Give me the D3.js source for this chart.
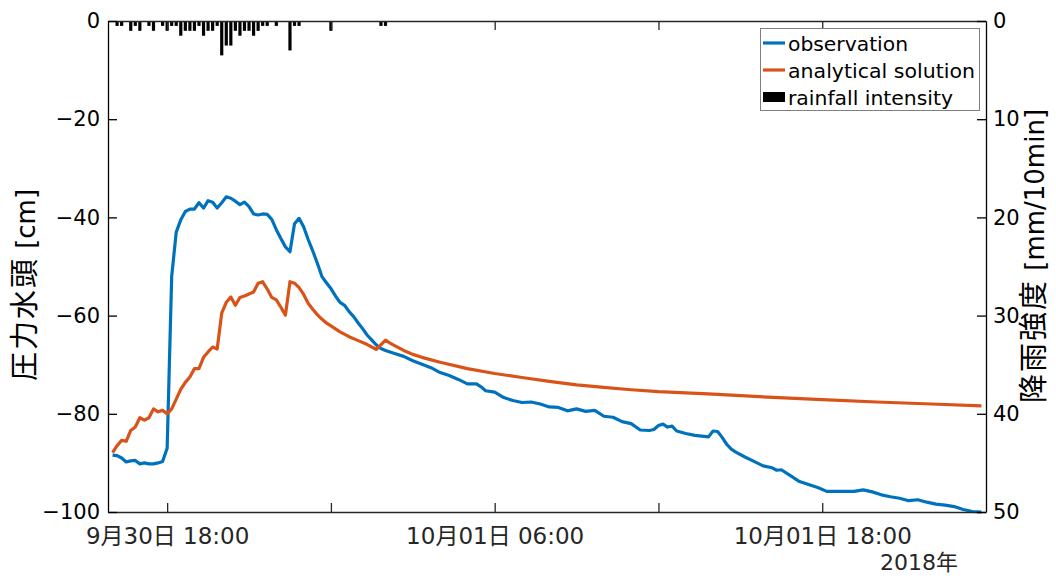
<!DOCTYPE html>
<html><head><meta charset="utf-8">
<script src="https://cdn.jsdelivr.net/npm/d3@7"></script>
<style>body{margin:0;background:#fff} svg{display:block}</style>
</head><body><svg id="c" width="1056" height="576"></svg>
<script>
// ---- data ----
const startTime = new Date(2018, 8, 30, 16, 0); // step 0 = 2018-09-30 16:00, 10-min steps
const obsStep = [0,1,2,3,4,5,6,7,8,9,10,11,12,13,14,15,16,17,18,19,20,21,22,23,24,25,26,27,28,29,30,31,32,33,34,35,36,37,38,39,40,41,42,43,44,45,46,47,48,49,50,51,52,53,54,55,56,57,58,59,60,62,64,66,68,70,72,74,76,78,80,81,82,84,86,88,90,92,94,96,98,100,102,104,106,108,110,112,114,116,118,119,120,121,122,123,124,126,128,130,131,132,133,134,135,136,137,139,141,143,145,146,147,149,151,153,155,157,159,161,163,165,167,169,171,173,175,177,179,181,183,185,187,189,191];
const obsHead = [-88.4,-88.5,-89.0,-89.8,-89.6,-89.5,-90.2,-90.0,-90.2,-90.2,-90.0,-89.7,-87.0,-52.0,-43.0,-40.5,-38.8,-38.3,-38.3,-37.0,-38.1,-36.6,-36.9,-38.1,-37.0,-35.8,-36.1,-36.7,-37.4,-36.9,-37.8,-39.3,-39.5,-39.3,-39.4,-40.4,-42.5,-44.3,-46.0,-47.0,-41.3,-40.2,-41.9,-44.5,-46.8,-49.3,-52.0,-53.3,-54.5,-56.0,-57.3,-57.9,-59.2,-60.2,-61.5,-62.7,-64.0,-65.0,-66.0,-66.7,-67.1,-67.7,-68.3,-69.2,-69.9,-70.6,-71.6,-72.2,-73.0,-73.9,-73.9,-74.5,-75.3,-75.6,-76.7,-77.3,-77.7,-77.6,-78.0,-78.6,-78.7,-79.4,-79.0,-79.5,-79.3,-80.5,-80.7,-81.6,-82.0,-83.3,-83.4,-83.2,-82.4,-82.1,-82.7,-82.5,-83.5,-84.0,-84.4,-84.6,-84.7,-83.5,-83.6,-84.8,-86.2,-87.2,-87.8,-88.8,-89.7,-90.6,-91.0,-91.5,-91.4,-92.6,-93.8,-94.4,-95.0,-95.8,-95.8,-95.8,-95.8,-95.5,-95.9,-96.5,-96.9,-97.2,-97.7,-97.5,-98.0,-98.4,-98.6,-98.9,-99.5,-99.9,-100.0];
const anaStep = [0,1,2,3,4,5,6,7,8,9,10,11,12,13,14,15,16,17,18,19,20,21,22,23,24,25,26,27,28,29,30,31,32,33,34,35,36,37,38,39,40,41,42,43,44,45,46,47,48,50,52,54,56,58,60,61,62,64,66,68,72,78,84,90,96,102,108,114,120,132,144,156,168,180,191];
const anaHead = [-87.9,-86.5,-85.4,-85.6,-83.4,-82.7,-80.8,-81.3,-80.8,-79.0,-79.6,-79.3,-80.0,-79.0,-77.0,-75.0,-73.6,-72.5,-70.8,-70.8,-68.5,-67.4,-66.4,-66.8,-59.5,-57.3,-56.2,-57.9,-56.3,-56.0,-55.6,-55.2,-53.4,-53.1,-54.6,-56.3,-56.8,-58.3,-59.9,-53.1,-53.4,-54.3,-55.7,-57.5,-58.7,-59.8,-60.7,-61.5,-62.1,-63.3,-64.3,-65.1,-65.9,-66.9,-65.0,-65.6,-66.1,-67.1,-67.9,-68.5,-69.5,-70.8,-71.8,-72.6,-73.4,-74.1,-74.6,-75.1,-75.5,-76.0,-76.6,-77.1,-77.6,-78.0,-78.4];
const rainStep = [1,2,4,5,6,8,9,11,12,13,14,15,16,17,18,19,20,21,22,23,24,25,26,27,28,29,30,31,32,33,34,36,39,40,41,48,59,60];
const rainMm   = [0.5,0.5,1.0,0.5,1.0,0.5,1.0,0.5,1.0,0.5,0.5,1.5,1.0,1.0,1.0,0.5,1.5,1.0,1.0,0.5,3.5,2.5,2.5,1.0,1.5,1.0,1.0,1.5,1.0,0.5,0.5,0.5,3.0,0.5,0.5,1.0,0.5,0.5];
const xTickTimes = [new Date(2018,8,30,18,0), new Date(2018,9,1,0,0), new Date(2018,9,1,6,0), new Date(2018,9,1,12,0), new Date(2018,9,1,18,0)];
const xTickLabels = ["9月30日 18:00", "", "10月01日 06:00", "", "10月01日 18:00"];
const leftTicks = [0, -20, -40, -60, -80, -100];
const rightTicks = [0, 10, 20, 30, 40, 50];
const seriesNames = ["observation", "analytical solution", "rainfall intensity"];
const seriesColors = ["#0072BD", "#D95319", "#000000"];

// ---- layout ----
const L = 108, R = 986, T = 21, B = 512;
const svg = d3.select("#c");
const stepTime = s => new Date(startTime.getTime() + s * 600000);
const x = d3.scaleTime().domain([new Date(2018,8,30,15,50), new Date(2018,9,2,0,0)]).range([L, R]);
const yL = d3.scaleLinear().domain([-100, 0]).range([B, T]);
const yR = d3.scaleLinear().domain([0, 50]).range([T, B]);
const numFont = "'DejaVu Sans', sans-serif";
const mixFont = "'DejaVu Sans', 'Noto Sans CJK JP', sans-serif";
const jpFont = "'Noto Sans CJK JP', sans-serif";

// rainfall bars
const stepW = x(stepTime(1)) - x(stepTime(0));
const bw = stepW * 0.7;
svg.append("g").selectAll("rect").data(rainStep).join("rect")
  .attr("x", (s) => x(stepTime(s)) - bw / 2)
  .attr("y", yR(0))
  .attr("width", bw)
  .attr("height", (s, i) => yR(rainMm[i]) - yR(0))
  .attr("fill", seriesColors[2]);

// lines
const line = d3.line().x(d => x(stepTime(d[0]))).y(d => yL(d[1]));
svg.append("path").datum(obsStep.map((s, i) => [s, obsHead[i]]))
  .attr("d", line).attr("fill", "none").attr("stroke", seriesColors[0])
  .attr("stroke-width", 3.2).attr("stroke-linejoin", "round");
svg.append("path").datum(anaStep.map((s, i) => [s, anaHead[i]]))
  .attr("d", line).attr("fill", "none").attr("stroke", seriesColors[1])
  .attr("stroke-width", 3.2).attr("stroke-linejoin", "round");

// axes
const tk = 9;
const gx = svg.append("g").attr("transform", `translate(0,${B})`)
  .call(d3.axisBottom(x).tickValues(xTickTimes).tickFormat((d, i) => xTickLabels[i]).tickSizeInner(-tk).tickSizeOuter(0));
gx.select(".domain").attr("stroke", "#262626").attr("stroke-width", 1.3);
gx.selectAll(".tick line").attr("stroke", "#262626").attr("stroke-width", 1.3);
gx.selectAll(".tick text").attr("font-family", mixFont).attr("font-size", 23).attr("fill", "#262626")
  .attr("dy", "0.35em").attr("y", 24);
const gt = svg.append("g").attr("transform", `translate(0,${T})`)
  .call(d3.axisTop(x).tickValues(xTickTimes).tickFormat("").tickSizeInner(-tk).tickSizeOuter(0));
gt.select(".domain").attr("stroke", "#262626").attr("stroke-width", 1.3);
gt.selectAll(".tick line").attr("stroke", "#262626").attr("stroke-width", 1.3);
svg.append("text").attr("x", 958).attr("y", 562).attr("dy", "0.35em").attr("text-anchor", "end")
  .attr("font-family", mixFont).attr("font-size", 22).attr("fill", "#262626").text("2018年");

const gl = svg.append("g").attr("transform", `translate(${L},0)`)
  .call(d3.axisLeft(yL).tickValues(leftTicks).tickFormat(d3.format("d")).tickSizeInner(-tk).tickSizeOuter(0));
gl.select(".domain").attr("stroke", "#000").attr("stroke-width", 1.3);
gl.selectAll(".tick line").attr("stroke", "#000").attr("stroke-width", 1.3);
gl.selectAll(".tick text").attr("font-family", numFont).attr("font-size", 21).attr("fill", "#000").attr("x", -8);

const gr = svg.append("g").attr("transform", `translate(${R},0)`)
  .call(d3.axisRight(yR).tickValues(rightTicks).tickFormat(d3.format("d")).tickSizeInner(-tk).tickSizeOuter(0));
gr.select(".domain").attr("stroke", "#000").attr("stroke-width", 1.3);
gr.selectAll(".tick line").attr("stroke", "#000").attr("stroke-width", 1.3);
gr.selectAll(".tick text").attr("font-family", numFont).attr("font-size", 21).attr("fill", "#000").attr("x", 7);

// axis titles (CJK part + Latin part)
function axisTitle(tx, ty, cjk, latin) {
  const t = svg.append("text").attr("transform", `translate(${tx},${ty}) rotate(-90)`)
    .attr("text-anchor", "middle").attr("dy", "0.35em").attr("fill", "#000");
  t.append("tspan").attr("font-family", jpFont).attr("font-size", 29).attr("letter-spacing", 2).text(cjk);
  t.append("tspan").attr("font-family", numFont).attr("font-size", 26).text(" " + latin);
}
axisTitle(29, 285, "圧力水頭", "[cm]");
axisTitle(1038, 256, "降雨強度", "[mm/10min]");

// legend
const lg = svg.append("g");
lg.append("rect").attr("x", 760.5).attr("y", 28.5).attr("width", 219).attr("height", 82)
  .attr("fill", "#fff").attr("stroke", "#7f7f7f").attr("stroke-width", 1);
const rowsY = [44, 71, 98];
const textLens = [120, 187, 165];
seriesNames.forEach((name, i) => {
  if (i < 2) {
    lg.append("line").attr("x1", 763).attr("x2", 785).attr("y1", rowsY[i] - 1).attr("y2", rowsY[i] - 1)
      .attr("stroke", seriesColors[i]).attr("stroke-width", 3.2);
  } else {
    lg.append("rect").attr("x", 763).attr("y", rowsY[i] - 6).attr("width", 22).attr("height", 10)
      .attr("fill", seriesColors[i]);
  }
  lg.append("text").attr("x", 788).attr("y", rowsY[i]).attr("dy", "0.35em")
    .attr("font-family", numFont).attr("font-size", 20).attr("fill", "#000")
    .attr("textLength", textLens[i]).attr("lengthAdjust", "spacingAndGlyphs").text(name);
});
</script></body></html>
